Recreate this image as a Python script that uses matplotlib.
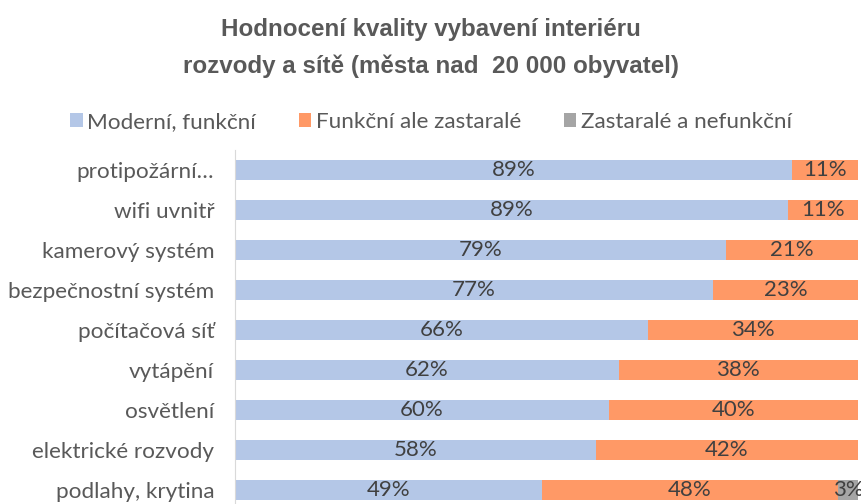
import matplotlib.pyplot as plt
import numpy as np

# Data
categories = ['protipožární…', 'wifi uvnitř', 'kamerový systém', 'bezpečnostní systém',
              'počítačová síť', 'vytápění', 'osvětlení', 'elektrické rozvody', 'podlahy, krytina']
moderni = [89.4, 88.7, 78.8, 76.7, 66.3, 61.6, 60.0, 57.9, 49.2]
zastarale = [10.6, 11.3, 21.2, 23.3, 33.7, 38.4, 40.0, 42.1, 47.6]
nefunkcni = [0, 0, 0, 0, 0, 0, 0, 0, 3.2]
series_names = ['Moderní, funkční', 'Funkční ale zastaralé', 'Zastaralé a nefunkční']
colors = ['#B4C7E7', '#FF9966', '#A5A5A5']

plt.rcParams['font.family'] = ['Lato', 'DejaVu Sans']

fig = plt.figure(figsize=(8.62, 5.04), dpi=100)
ax = fig.add_axes([235 / 862, -6 / 504, 623 / 862, 360 / 504])

y = np.arange(len(categories))
left = np.zeros(len(categories))
for vals, name, col in zip([moderni, zastarale, nefunkcni], series_names, colors):
    vals = np.array(vals)
    bars = ax.barh(y, vals, left=left, height=0.5, color=col, label=name)
    for b, v in zip(bars, vals):
        if v > 0:
            ax.text(b.get_x() + b.get_width() / 2, b.get_y() + b.get_height() / 2,
                    f'{v:.0f}%', ha='center', va='center', fontsize=16, color='#404040')
    left += vals

ax.set_xlim(0, 100)
ax.set_ylim(len(categories) - 0.5, -0.5)
ax.set_yticks(y)
ax.set_yticklabels(categories, fontsize=16.2, color='#595959')
ax.set_xticks([])
ax.tick_params(axis='y', length=0, pad=15)
for s in ['top', 'right', 'bottom']:
    ax.spines[s].set_visible(False)
ax.spines['left'].set_color('#D9D9D9')

fig.text(0.5, 1 - 48 / 504, 'Hodnocení kvality vybavení interiéru\nrozvody a sítě (města nad  20 000 obyvatel)',
         ha='center', va='center', fontsize=17.4, fontweight='bold', color='#595959',
         family=['Liberation Sans', 'DejaVu Sans'], linespacing=1.75)

fig.legend(loc='center', bbox_to_anchor=(0.5, 1 - 122 / 504), ncol=3, frameon=False,
           fontsize=16.2, handlelength=0.55, handleheight=0.55, handletextpad=0.2,
           columnspacing=1.9, labelcolor='#595959')

fig.savefig('out.png', dpi=100)
